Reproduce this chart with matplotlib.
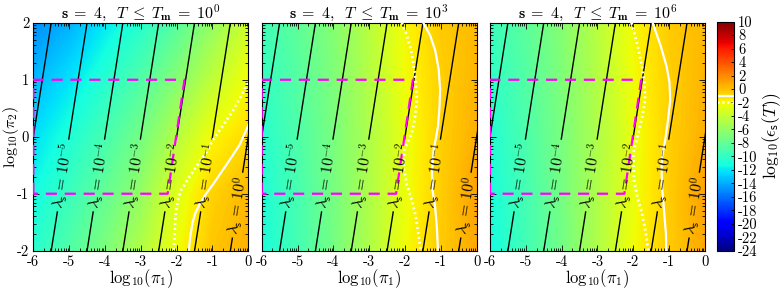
import numpy as np
import matplotlib.pyplot as plt
from matplotlib.colors import Normalize
from matplotlib.cm import ScalarMappable

plt.rcParams["font.family"] = "serif"
plt.rcParams["font.serif"] = ["cmr10"]
plt.rcParams["mathtext.fontset"] = "cm"
plt.rcParams["axes.unicode_minus"] = False
plt.rcParams["axes.formatter.use_mathtext"] = True

# colour field log10(eps_s(T)) read on a coarse grid, rows follow log_pi2
log_pi1 = [-6, -5, -4, -3, -2, -1, 0]
log_pi2 = [-2, -1, 0, 1, 2]
tm_exp = [0, 3, 6]

eps_tm0 = [
    [-10.5, -8.8, -7.0, -4.8, -2.3, -0.2, 0.5],
    [-11.3, -9.7, -8.0, -6.0, -2.9, -0.7, 0.3],
    [-12.3, -10.8, -9.2, -7.3, -4.7, -2.0, -0.9],
    [-13.6, -12.2, -10.5, -8.8, -6.6, -4.2, -2.1],
    [-15.0, -13.8, -12.0, -10.5, -8.5, -6.0, -3.6],
]
eps_tm3 = [
    [-11.0, -9.3, -7.3, -4.9, -2.2, -0.4, 0.8],
    [-10.8, -9.2, -7.2, -4.9, -2.4, -0.5, 1.1],
    [-10.5, -8.9, -7.1, -4.9, -2.5, -0.6, 0.6],
    [-10.0, -8.6, -6.9, -4.7, -2.2, -0.6, 0.4],
    [-9.5, -8.2, -6.6, -4.5, -2.0, -0.4, 0.2],
]
eps_tm6 = [
    [-11.2, -9.4, -7.4, -4.9, -2.2, -0.4, 0.8],
    [-11.0, -9.3, -7.3, -4.9, -2.4, -0.5, 1.1],
    [-10.7, -9.0, -7.1, -4.9, -2.5, -0.6, 0.6],
    [-10.2, -8.7, -6.9, -4.7, -2.2, -0.6, 0.4],
    [-9.7, -8.3, -6.6, -4.5, -2.0, -0.4, 0.2],
]
fields = [eps_tm0, eps_tm3, eps_tm6]

# white iso-lines: log10(eps) = -1 (solid) and -2 (dotted)
m1_x = [
    [0.0, -0.24, -0.62, -0.99, -1.2, -1.36, -1.48, -1.55, -1.62, -1.66],
    [-1.49, -1.30, -1.16, -1.06, -1.02, -1.04, -1.08, -1.14, -1.20, -1.25, -1.23,
     -1.16, -1.11, -1.08],
    [-1.46, -1.24, -1.07, -0.99, -0.97, -1.03, -1.11, -1.20, -1.21, -1.20, -1.16,
     -1.13, -1.09, -1.08],
]
m1_y = [
    [0.2, -0.14, -0.5, -0.84, -1.02, -1.19, -1.34, -1.49, -1.75, -2.0],
    [2.0, 1.78, 1.52, 1.18, 0.82, 0.5, 0.18, -0.03, -0.23, -0.64, -0.95, -1.23,
     -1.6, -2.0],
    [2.0, 1.6, 1.23, 0.95, 0.64, 0.3, -0.06, -0.35, -0.6, -0.88, -1.15, -1.40,
     -1.7, -2.0],
]
m2_x = [
    [0.0, -0.42, -0.7, -0.98, -1.16, -1.45, -1.72, -1.87, -1.95, -2.02, -2.05, -2.08],
    [-2.09, -1.95, -1.83, -1.72, -1.67, -1.72, -1.81, -1.93, -2.02, -2.04, -1.95,
     -1.81, -1.70, -1.63, -1.56],
    [-2.05, -1.88, -1.76, -1.69, -1.67, -1.75, -1.86, -1.94, -2.00, -1.98, -1.88,
     -1.76, -1.66, -1.58],
]
m2_y = [
    [0.94, 0.47, 0.2, -0.05, -0.26, -0.52, -0.78, -0.93, -1.08, -1.3, -1.6, -2.0],
    [2.0, 1.78, 1.52, 1.1, 0.64, 0.35, 0.06, -0.1, -0.23, -0.53, -0.85, -1.11,
     -1.4, -1.70, -2.0],
    [2.0, 1.6, 1.23, 0.95, 0.64, 0.35, 0.06, -0.12, -0.29, -0.76, -1.08, -1.34,
     -1.66, -2.0],
]

# lambda_s iso-lines: where they cross log10(pi2) = -2 and = 2
lam_exp = [-6, -5, -4, -3, -2, -1, 0]
lam_x_bot = [-6.5, -5.5, -4.5, -3.5, -2.5, -1.5, -0.5]
lam_x_top = [-5.5, -4.5, -3.5, -2.5, -1.5, -0.5, 0.5]
lam_label_y = [None, -0.68, -0.68, -0.68, -0.68, -0.68, -1.2]
lam_gap = [0, 0.64, 0.64, 0.64, 0.64, 0.64, 0.58]

# magenta dashed region
box_x = [-6, -6, -1.78, -2.25, -6]
box_y = [-1, 1, 1, -1, -1]

x_ticks = [-6, -5, -4, -3, -2, -1, 0]
y_ticks = [-2, -1, 0, 1, 2]
cb_ticks = list(range(-24, 11, 2))

vmin, vmax = -24, 10

fig = plt.figure(figsize=(7.84, 2.9), dpi=100)
lefts = [0.0425, 0.3338, 0.625]
minor_x = [d + np.log10(m) for d in range(-6, 0) for m in range(2, 10)]
minor_y = [d + np.log10(m) for d in range(-2, 2) for m in range(2, 10)]
dots = (0, (0.7, 1.1))

for i in range(3):
    ax = fig.add_axes([lefts[i], 0.1355, 0.2742, 0.786])
    ax.imshow(np.array(fields[i]), extent=[-6.5, 0.5, -2.5, 2.5], origin="lower",
              cmap="jet", vmin=vmin, vmax=vmax, interpolation="bilinear", aspect="auto")

    for k in range(len(lam_exp)):
        xb, xt = lam_x_bot[k], lam_x_top[k]
        if lam_label_y[k] is None:
            ax.plot([xb, xt], [-2, 2], color="black", lw=1.0)
            continue
        yc, h = lam_label_y[k], lam_gap[k]
        for ys in ([-2, yc - h], [yc + h, 2]):
            xs = np.interp(ys, [-2, 2], [xb, xt])
            ax.plot(xs, ys, color="black", lw=1.0)
        xc = np.interp(yc, [-2, 2], [xb, xt])
        ang = np.degrees(np.arctan2(4, xt - xb))
        ax.text(xc, yc, r"$\lambda_{\mathsf{s}}\,=\,10^{%d}$" % lam_exp[k], fontsize=11,
                rotation=ang, transform_rotates_text=True, rotation_mode="anchor",
                ha="center", va="center", zorder=6)

    ax.plot(box_x, box_y, color="magenta", lw=1.6, dashes=(5, 3.5), zorder=4)
    ax.plot(m1_x[i], m1_y[i], color="white", lw=1.6, zorder=5)
    ax.plot(m2_x[i], m2_y[i], color="white", lw=2.0, linestyle=dots, zorder=5)

    ax.set_xlim(-6, 0)
    ax.set_ylim(-2, 2)
    ax.set_xticks(x_ticks)
    ax.set_xticklabels([str(v) for v in x_ticks], fontsize=10.5)
    ax.set_yticks(y_ticks)
    ax.set_xticks(minor_x, minor=True)
    ax.set_yticks(minor_y, minor=True)
    if i == 0:
        ax.set_yticklabels([str(v) for v in y_ticks], fontsize=10.5)
        ax.set_ylabel(r"$\mathrm{log}_{10}(\pi_2)$", fontsize=11.5, labelpad=-3)
    else:
        ax.set_yticklabels([])
    ax.set_xlabel(r"$\mathrm{log}_{10}(\pi_1)$", fontsize=12, labelpad=-1)
    ax.tick_params(which="both", direction="in", top=True, right=True, width=0.6)
    ax.tick_params(which="major", length=4, pad=3)
    ax.tick_params(which="minor", length=2)
    ax.set_title(r"$\mathbf{s}\;=\;4,\;\;T\;\leq\;T_{\mathbf{m}}\;=\;10^{%d}$" % tm_exp[i],
                 fontsize=11.5, pad=3)

cax = fig.add_axes([0.9142, 0.1355, 0.0221, 0.79])
cb = fig.colorbar(ScalarMappable(norm=Normalize(vmin, vmax), cmap="jet"), cax=cax)
cb.set_ticks(cb_ticks)
cb.set_ticklabels([str(v) for v in cb_ticks])
cax.tick_params(labelsize=10.5, direction="in", length=2, width=0.6, pad=3)
cax.axhline(-1, color="white", lw=1.6)
cax.axhline(-2, color="white", lw=2.0, linestyle=dots)
cb.set_label(r"$\mathrm{log}_{10}(\epsilon_{\mathsf{s}}(T))$", fontsize=12.5, labelpad=2)

fig.savefig("out.png", dpi=100)
